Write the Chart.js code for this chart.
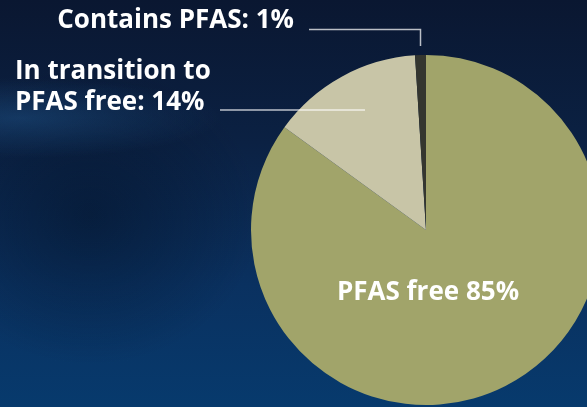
<!DOCTYPE html>
<html>
<head>
<meta charset="utf-8">
<script src="https://cdn.jsdelivr.net/npm/chart.js@4"></script>
<style>
  html, body {
    margin: 0;
    width: 587px;
    height: 407px;
    overflow: hidden;
  }
  body {
    background:
      radial-gradient(ellipse 200px 40px at 20px 118px, rgba(30, 82, 135, 0.5), rgba(30, 82, 135, 0) 100%),
      radial-gradient(ellipse 170px 150px at 90px 215px, rgba(3, 18, 40, 0.5), rgba(3, 18, 40, 0) 100%),
      linear-gradient(180deg, #0a1731 0%, #0b2143 35%, #0a3160 70%, #073a6d 100%);
  }
  #wrap {
    position: absolute;
    left: 0;
    top: 0;
    width: 602px;
    height: 407px;
  }
</style>
</head>
<body>
<div id="wrap"><canvas id="pie" width="602" height="407"></canvas></div>
<script>
// Share of products by PFAS status
const categories = ['PFAS free', 'In transition to PFAS free', 'Contains PFAS'];
const shares = [85, 14, 1];
const sliceColors = ['#a1a46a', '#c8c5a7', '#34362f'];

const FONT = 'bold 26px "Open Sans", "Noto Sans", sans-serif';

// Draws the callout labels and leader lines from the arc geometry.
const calloutPlugin = {
  id: 'callouts',
  afterDraw(chart) {
    const ctx = chart.ctx;
    const arcs = chart.getDatasetMeta(0).data;
    ctx.save();
    ctx.font = FONT;
    ctx.fillStyle = '#ffffff';
    ctx.textBaseline = 'alphabetic';

    // Inside label for the big slice
    const big = arcs[0];
    ctx.textAlign = 'center';
    ctx.fillText(`${categories[0]} ${shares[0]}%`, big.x + 2, big.y + 70);

    // "In transition" callout
    const mid = arcs[1];
    const a1 = (mid.startAngle + mid.endAngle) / 2;
    const lineY1 = 110;
    const t = (lineY1 - mid.y) / Math.sin(a1);
    const endX1 = mid.x + Math.cos(a1) * t + 5;
    ctx.strokeStyle = 'rgba(255, 255, 255, 0.72)';
    ctx.lineWidth = 1.5;
    ctx.beginPath();
    ctx.moveTo(220, lineY1);
    ctx.lineTo(endX1, lineY1);
    ctx.stroke();
    ctx.textAlign = 'left';
    ctx.fillText('In transition to', 15, 79);
    ctx.fillText(`PFAS free: ${shares[1]}%`, 15, 110);

    // "Contains PFAS" callout
    const tiny = arcs[2];
    const a2 = (tiny.startAngle + tiny.endAngle) / 2;
    const r = tiny.outerRadius;
    const px = tiny.x + Math.cos(a2) * r;
    const py = tiny.y + Math.sin(a2) * (r + 9);
    ctx.beginPath();
    ctx.moveTo(px, py);
    ctx.lineTo(px, 29.5);
    ctx.lineTo(309, 29.5);
    ctx.stroke();
    ctx.textAlign = 'right';
    ctx.fillText(`Contains PFAS: ${shares[2]}%`, 294, 28);
    ctx.restore();
  }
};

new Chart(document.getElementById('pie'), {
  type: 'pie',
  data: {
    labels: categories,
    datasets: [{
      data: shares,
      backgroundColor: sliceColors,
      borderWidth: 0,
      hoverOffset: 0
    }]
  },
  options: {
    responsive: false,
    animation: false,
    events: [],
    layout: { padding: { left: 251, top: 55, right: 1, bottom: 2 } },
    plugins: {
      legend: { display: false },
      tooltip: { enabled: false }
    }
  },
  plugins: [calloutPlugin]
});
</script>
</body>
</html>
